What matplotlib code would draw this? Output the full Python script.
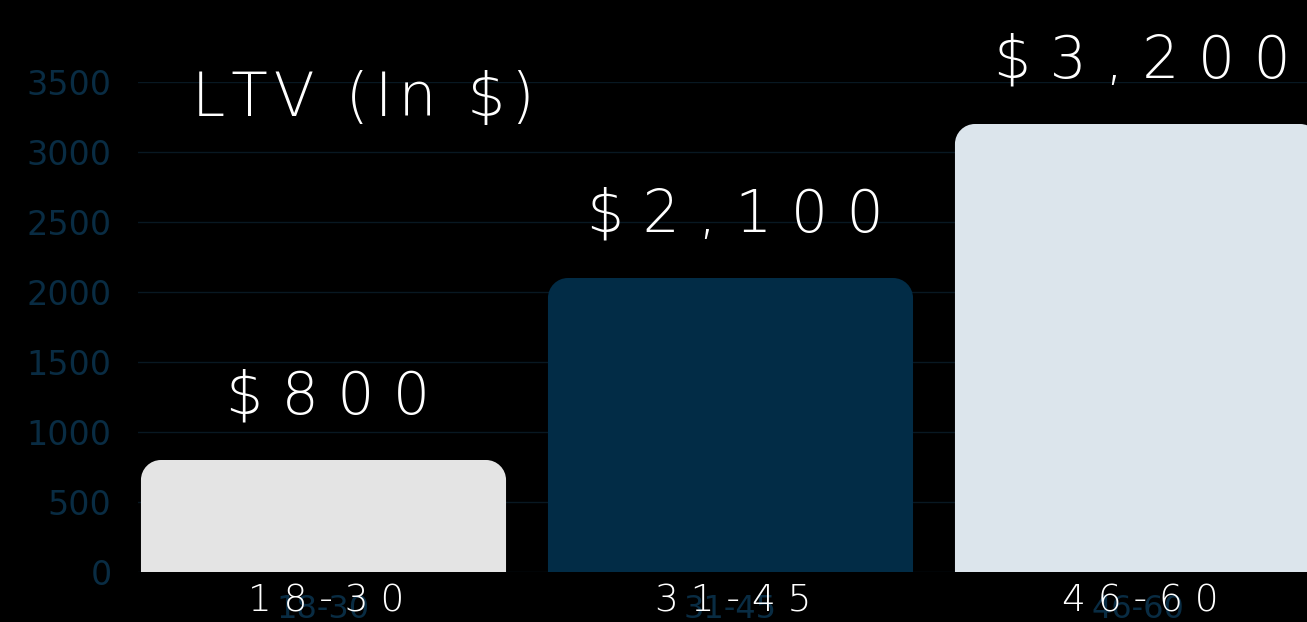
import matplotlib
matplotlib.use("Agg")
import matplotlib.pyplot as plt
from matplotlib.path import Path
from matplotlib.patches import PathPatch

# ---- data ----
categories = ["18-30", "31-45", "46-60"]
values = [800, 2100, 3200]
value_labels = ["$800", "$2,100", "$3,200"]
yticks = [0, 500, 1000, 1500, 2000, 2500, 3000, 3500]
title = "LTV (In $)"
bar_colors = ["#e4e4e4", "#022c46", "#dce5ec"]

W, H, DPI = 1307, 622, 100
fig = plt.figure(figsize=(W / DPI, H / DPI), dpi=DPI, facecolor="black")

ax_left_px, ax_bottom_px, ax_top_px = 138, 572, 82
ax = fig.add_axes([ax_left_px / W, (H - ax_bottom_px) / H,
                   (W - ax_left_px) / W, (ax_bottom_px - ax_top_px) / H])
ax.set_facecolor("black")

cat_px = 407.0
first_center_px = 323.5
xl = -(first_center_px - ax_left_px) / cat_px
xr = xl + (W - ax_left_px) / cat_px
ax.set_xlim(xl, xr)
ax.set_ylim(0, 3500)

for s in ax.spines.values():
    s.set_visible(False)

ax.set_yticks(yticks)
ax.set_yticklabels([str(t) for t in yticks], color="#092c43", fontsize=24,
                   family="DejaVu Sans")
ax.tick_params(axis="y", length=0, pad=19)
ax.grid(axis="y", color="#081822", linewidth=1.0)
ax.set_axisbelow(True)

pos = list(range(len(categories)))
ax.set_xticks(pos)
ax.set_xticklabels(categories, color="#092c43", fontsize=23)
ax.tick_params(axis="x", length=0, pad=16)

bars = ax.bar(pos, values, width=0.897, color=bar_colors)

# rounded top corners
px_per_x = cat_px
px_per_y = (ax_bottom_px - ax_top_px) / 3500.0
r_px = 20
rx, ry = r_px / px_per_x, r_px / px_per_y
k = 0.5523
for rect, c in zip(bars, bar_colors):
    x0 = rect.get_x(); x1 = x0 + rect.get_width()
    y0 = rect.get_y(); y1 = y0 + rect.get_height()
    verts = [(x0, y0), (x0, y1 - ry), (x0, y1 - ry + k * ry), (x0 + rx - k * rx, y1),
             (x0 + rx, y1), (x1 - rx, y1), (x1 - rx + k * rx, y1), (x1, y1 - ry + k * ry),
             (x1, y1 - ry), (x1, y0), (x0, y0)]
    codes = [Path.MOVETO, Path.LINETO, Path.CURVE4, Path.CURVE4, Path.CURVE4,
             Path.LINETO, Path.CURVE4, Path.CURVE4, Path.CURVE4, Path.LINETO, Path.CLOSEPOLY]
    rect.set_visible(False)
    ax.add_patch(PathPatch(Path(verts, codes), facecolor=c, edgecolor="none", zorder=2))

def spaced(s):
    return " ".join(list(s))

for i, (v, lab) in enumerate(zip(values, value_labels)):
    ax.annotate(spaced(lab), xy=(i, v), xytext=(5, 46), textcoords="offset pixels",
                ha="center", va="baseline", color="white", fontsize=42,
                fontweight="light", annotation_clip=False)
    ax.annotate(spaced(categories[i]), xy=(i, 0), xycoords=("data", "axes fraction"),
                xytext=(3, -40), textcoords="offset pixels", ha="center", va="baseline",
                color="white", fontsize=27, fontweight="light", annotation_clip=False)

fig.text(192 / W, 1 - 116 / H, "\u200a".join(list(title)), color="white", fontsize=43,
         fontweight="light", ha="left", va="baseline")

fig.savefig("out.png", dpi=DPI, facecolor="black")
